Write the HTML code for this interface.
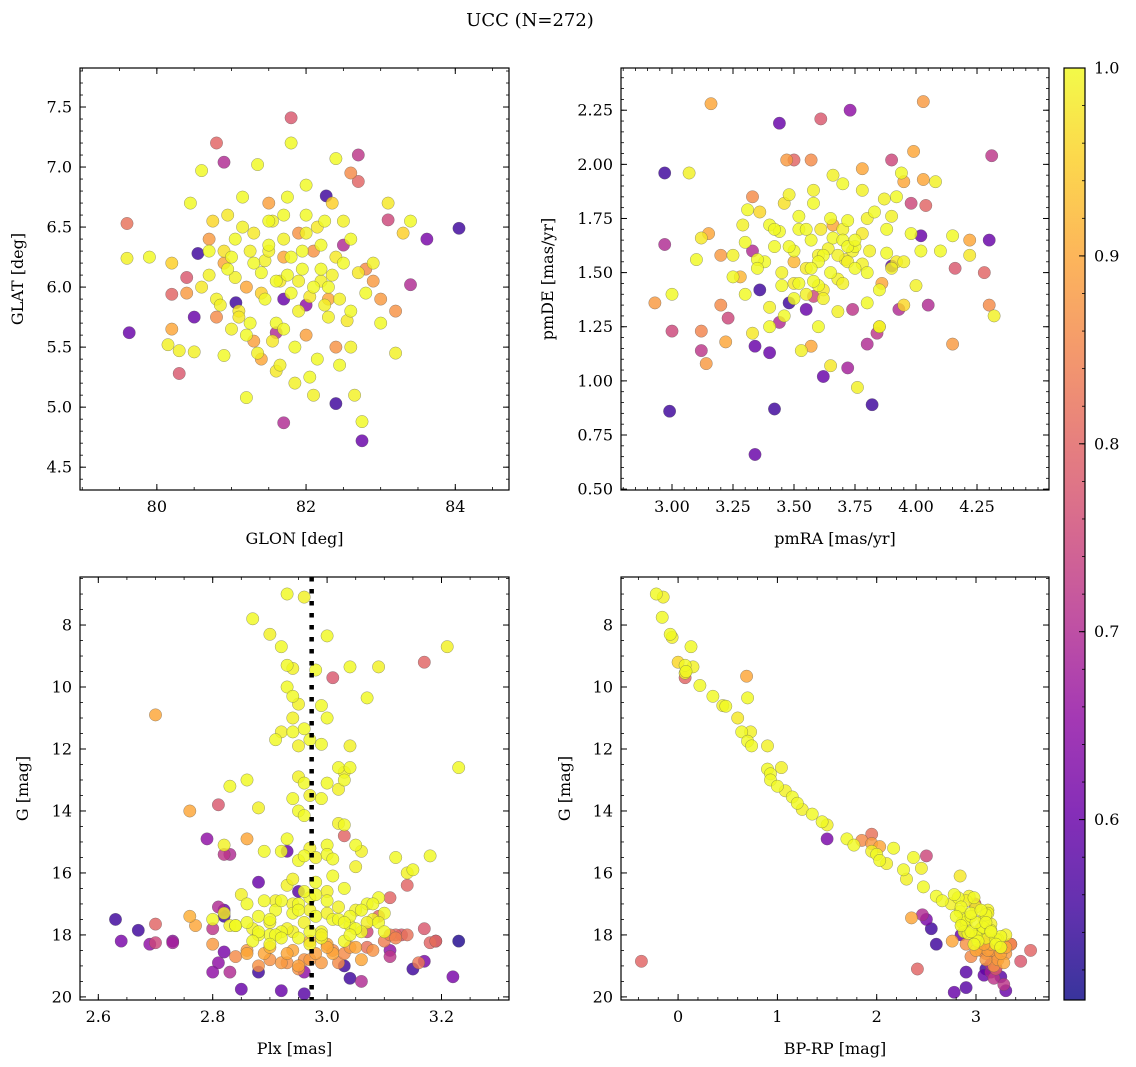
<!DOCTYPE html>
<html><head><meta charset="utf-8"><style>
html,body{margin:0;padding:0;background:#fff}
svg{display:block;font-family:"DejaVu Serif","Liberation Serif",serif}
</style></head><body>
<svg id="fig" width="1136" height="1067" viewBox="0 0 1136 1067">
<text x="530" y="26" text-anchor="middle" font-size="18" fill="#000">UCC (N=272)</text>
</svg>
<script>
// Each entry: [x, y, probability]
// ---- Panel 1: GLON vs GLAT ----
const p1Low=[[84.05,6.49,0.55],[83.62,6.40,0.62],[82.75,4.72,0.6],[82.4,5.03,0.55],[79.63,5.62,0.6],[80.55,6.28,0.55],[82.27,6.76,0.55],[81.06,5.87,0.55],[80.5,5.75,0.6],[81.7,5.9,0.6],[82.0,5.85,0.65],[81.7,4.87,0.7],[82.7,7.1,0.72],[81.8,7.41,0.78],[80.8,7.2,0.8],[80.9,7.04,0.7],[79.6,6.53,0.82],[80.3,5.28,0.78],[80.4,6.08,0.78],[80.2,5.94,0.8],[83.4,6.02,0.7],[82.7,6.88,0.8],[81.6,5.62,0.7],[82.5,6.35,0.7],[83.1,6.56,0.75]];
const p1Mid=[[80.2,5.65,0.9],[80.7,6.4,0.88],[81.3,5.55,0.89],[81.9,6.45,0.87],[82.3,5.9,0.9],[82.8,6.15,0.86],[83.0,5.9,0.88],[80.9,6.2,0.9],[81.5,6.7,0.89],[82.1,6.3,0.87],[82.6,6.95,0.86],[81.2,6.0,0.9],[80.4,5.95,0.88],[83.2,5.8,0.87],[82.0,5.6,0.89],[81.4,5.4,0.9],[80.8,5.75,0.86],[82.9,6.05,0.88],[81.7,6.25,0.9],[82.4,5.5,0.87]];
const p1High=[[79.6,6.24,0.99],[79.9,6.25,1.0],[80.15,5.52,0.99],[80.2,6.2,0.95],[80.3,5.47,0.99],[80.45,6.7,1.0],[80.5,5.46,0.99],[80.6,6.97,1.0],[80.7,6.1,0.99],[80.75,6.55,0.96],[80.8,5.9,0.99],[80.9,5.43,1.0],[80.95,6.6,0.98],[81.0,6.25,1.0],[81.05,6.08,0.99],[81.1,5.8,0.98],[81.15,6.75,1.0],[81.2,5.08,1.0],[81.25,6.3,0.99],[81.3,6.45,0.98],[81.35,7.02,1.0],[81.4,5.95,0.95],[81.45,6.22,0.99],[81.5,6.55,1.0],[81.55,5.55,0.98],[81.6,5.7,1.0],[81.65,6.05,0.98],[81.7,6.4,0.99],[81.75,6.1,1.0],[81.8,7.2,1.0],[81.85,5.2,0.99],[81.9,6.05,0.99],[81.95,6.3,1.0],[82.0,6.85,1.0],[82.05,5.92,0.98],[82.1,5.1,0.99],[82.15,6.5,0.98],[82.2,6.15,1.0],[82.25,5.85,0.99],[82.3,6.0,1.0],[82.35,6.7,0.95],[82.4,6.25,0.98],[82.45,5.35,1.0],[82.5,6.55,0.99],[82.55,5.72,0.98],[82.6,6.4,1.0],[82.65,5.1,0.99],[82.7,6.12,0.98],[82.75,4.88,1.0],[82.8,5.95,1.0],[82.9,6.2,0.99],[83.0,5.7,1.0],[83.1,6.7,0.98],[83.2,5.45,0.99],[83.3,6.45,0.95],[83.4,6.55,1.0],[81.2,5.6,1.0],[81.6,5.3,0.98],[82.0,6.45,0.99],[81.4,6.12,1.0],[80.9,6.3,0.97],[81.8,5.95,1.0],[82.2,6.05,0.99],[81.1,5.75,0.98],[81.5,6.35,1.0],[82.6,5.5,0.99],[80.6,6.0,0.98],[81.0,5.65,0.99],[82.4,7.07,1.0],[81.7,6.6,1.0],
[81.3,6.2,1.0],[81.5,6.3,0.99],[81.6,6.05,1.0],[81.8,6.25,1.0],[81.9,5.8,0.99],[82.1,6.0,1.0],[82.2,6.35,1.0],[82.3,5.75,0.99],[81.45,5.9,1.0],[81.7,5.65,1.0],[81.55,6.55,0.99],[82.0,6.6,1.0],[81.85,5.5,1.0],[82.35,6.1,0.99],[81.25,5.7,1.0],[80.95,6.15,1.0],[80.85,5.85,0.99],[81.05,6.4,1.0],[82.15,5.4,1.0],[82.45,5.9,0.99],[81.75,6.75,1.0],[82.5,6.2,1.0],[81.35,5.45,0.99],[82.05,5.25,1.0],[80.7,6.3,1.0],[81.15,6.5,0.99],[82.25,6.55,1.0],[81.95,6.15,1.0],[81.65,5.35,0.99],[82.6,5.8,1.0]];

// ---- Panel 2: pmRA vs pmDE ----
const p2Low=[[2.97,1.96,0.55],[2.99,0.86,0.55],[3.34,0.66,0.6],[3.42,0.87,0.55],[3.82,0.89,0.55],[3.44,2.19,0.6],[3.73,2.25,0.65],[4.3,1.65,0.6],[4.31,2.04,0.72],[4.02,1.67,0.6],[3.9,1.53,0.58],[3.34,1.16,0.6],[3.4,1.13,0.6],[3.72,1.06,0.68],[3.62,1.02,0.6],[2.97,1.63,0.7],[3.0,1.23,0.75],[3.12,1.14,0.72],[3.36,1.42,0.55],[3.48,1.36,0.55],[3.55,1.33,0.6],[3.8,1.17,0.7],[3.84,1.22,0.72],[3.58,1.39,0.75],[3.93,1.33,0.7],[4.05,1.35,0.7],[3.61,2.21,0.78],[3.5,2.02,0.8],[3.9,2.02,0.75],[4.16,1.52,0.78],[4.28,1.5,0.8],[3.33,1.6,0.7],[3.23,1.29,0.75],[3.44,1.27,0.7],[3.98,1.82,0.75],[4.04,1.81,0.8],[3.74,1.33,0.72]];
const p2Mid=[[3.16,2.28,0.9],[4.03,2.29,0.88],[2.93,1.36,0.88],[3.14,1.08,0.88],[3.12,1.23,0.85],[3.22,1.18,0.9],[4.15,1.17,0.88],[4.3,1.35,0.86],[4.22,1.65,0.9],[4.03,1.93,0.9],[3.99,2.06,0.9],[3.57,2.02,0.86],[3.47,2.02,0.88],[3.33,1.85,0.86],[3.15,1.68,0.9],[3.2,1.58,0.88],[3.2,1.35,0.86],[3.57,1.16,0.9],[3.78,1.98,0.9],[3.5,1.55,0.92],[3.66,1.72,0.9],[3.86,1.45,0.9],[3.28,1.48,0.92],[3.95,1.92,0.9]];
const p2High=[[3.0,1.4,1.0],[3.07,1.96,0.99],[3.1,1.56,1.0],[3.12,1.66,0.98],[3.25,1.48,1.0],[3.29,1.72,0.99],[3.31,1.79,1.0],[3.33,1.22,0.98],[3.36,1.78,0.96],[3.38,1.55,1.0],[3.4,1.34,0.99],[3.42,1.62,1.0],[3.44,1.69,1.0],[3.46,1.82,0.97],[3.48,1.86,0.99],[3.5,1.38,1.0],[3.52,1.76,1.0],[3.53,1.14,0.99],[3.55,1.52,0.98],[3.57,1.65,1.0],[3.58,1.88,0.99],[3.6,1.44,1.0],[3.61,1.7,0.98],[3.62,1.58,1.0],[3.64,1.61,0.99],[3.65,1.07,0.98],[3.66,1.66,1.0],[3.68,1.47,0.99],[3.7,1.91,1.0],[3.71,1.56,0.98],[3.72,1.74,1.0],[3.74,1.6,0.99],[3.75,1.52,1.0],[3.76,0.97,0.99],[3.78,1.68,0.98],[3.8,1.36,1.0],[3.81,1.6,0.99],[3.83,1.78,1.0],[3.85,1.25,0.97],[3.87,1.84,0.99],[3.88,1.59,1.0],[3.9,1.76,0.99],[3.92,1.55,0.98],[3.94,1.96,1.0],[3.95,1.35,0.96],[3.98,1.68,1.0],[4.0,1.44,0.99],[4.02,1.6,1.0],[4.08,1.92,0.99],[4.15,1.67,1.0],[4.22,1.58,0.98],[4.32,1.3,0.99],[3.45,1.44,1.0],[3.55,1.4,0.99],[3.65,1.5,1.0],[3.75,1.62,1.0],[3.6,1.58,0.99],[3.7,1.65,1.0],[3.5,1.45,0.98],[3.4,1.72,1.0],[3.85,1.25,0.99],[3.3,1.64,1.0],[3.68,1.32,0.99],[3.58,1.46,1.0],[3.78,1.54,0.99],[3.52,1.7,1.0],[3.62,1.42,0.98],[3.72,1.62,1.0],[3.9,1.52,0.99],[3.35,1.56,1.0],[3.8,1.75,0.99],
[3.5,1.6,1.0],[3.6,1.55,1.0],[3.7,1.45,0.99],[3.65,1.75,1.0],[3.55,1.7,1.0],[3.45,1.5,0.99],[3.75,1.65,1.0],[3.8,1.5,1.0],[3.62,1.38,0.99],[3.48,1.62,1.0],[3.58,1.82,1.0],[3.68,1.58,0.99],[3.52,1.45,1.0],[3.42,1.7,1.0],[3.72,1.55,0.99],[3.88,1.7,1.0],[3.35,1.52,1.0],[3.95,1.55,0.99],[3.3,1.4,1.0],[3.6,1.25,1.0],[3.78,1.88,0.99],[3.46,1.3,1.0],[3.85,1.42,1.0],[3.66,1.95,0.99],[3.57,1.52,1.0],[4.1,1.6,1.0],[3.25,1.58,0.99],[3.92,1.85,1.0],[3.4,1.25,1.0],[3.7,1.7,0.99]];

// ---- Panel 3: Plx vs G ----
const p3Low=[[2.63,17.5,0.55],[2.64,18.2,0.62],[2.67,17.85,0.55],[2.69,18.3,0.65],[2.7,18.25,0.75],[2.73,18.2,0.65],[2.73,18.25,0.68],[2.7,17.65,0.8],[2.81,18.9,0.65],[2.8,19.2,0.65],[2.82,18.55,0.62],[2.83,19.2,0.7],[2.85,19.75,0.6],[2.88,19.2,0.55],[2.92,19.8,0.6],[2.96,19.9,0.58],[2.96,19.2,0.65],[3.04,19.4,0.55],[3.03,19.0,0.55],[3.06,19.5,0.7],[3.11,18.5,0.65],[3.15,19.1,0.55],[3.17,18.85,0.62],[3.19,18.2,0.62],[3.23,18.2,0.52],[3.22,19.35,0.62],[2.8,17.8,0.72],[2.82,17.4,0.55],[3.13,18.0,0.78],[3.17,17.8,0.78],[3.11,18.7,0.72],[3.12,18.0,0.8],[3.18,18.25,0.8],[3.09,17.4,0.8],[3.07,17.9,0.75],
[3.17,9.2,0.8],[3.01,9.7,0.78],[2.81,13.8,0.78],[3.03,14.8,0.8],[2.79,14.9,0.65],[2.82,15.4,0.72],[2.83,15.4,0.7],[2.93,15.3,0.6],[2.88,16.3,0.6],[2.95,16.6,0.58],[3.14,16.4,0.8],[3.11,16.8,0.8],[2.81,17.1,0.7],[2.82,17.2,0.6]];
const p3Mid=[[2.7,10.9,0.9],[2.76,14.0,0.9],[2.86,14.9,0.9],[2.77,17.7,0.9],[2.8,18.3,0.88],[2.84,18.7,0.86],[2.86,18.6,0.9],[2.88,19.0,0.87],[2.9,18.4,0.91],[2.92,18.9,0.88],[2.94,18.5,0.9],[2.96,18.8,0.87],[2.98,18.6,0.89],[3.0,18.3,0.9],[3.02,18.9,0.86],[3.04,18.4,0.88],[3.06,18.8,0.9],[3.08,18.5,0.87],[3.1,18.2,0.84],[3.12,18.1,0.85],[3.14,18.0,0.82],[3.16,18.9,0.83],[2.95,19.0,0.89],[2.99,18.9,0.88],[3.03,18.6,0.86],[2.89,18.6,0.9],[2.93,18.9,0.87],[2.97,18.2,0.9],[3.01,18.5,0.86],[3.07,18.4,0.82],[3.11,18.0,0.84],[2.76,17.4,0.91],[3.19,18.2,0.82],
[2.93,18.6,0.9],[2.97,18.8,0.88],[3.01,18.6,0.9],[2.9,18.8,0.87],[3.05,18.4,0.9],[2.86,18.5,0.88],[2.95,19.1,0.87],[3.0,18.4,0.9]];
const p3High=[[2.93,7.0,1.0],[2.96,7.1,0.99],[2.87,7.8,1.0],[2.9,8.3,0.99],[3.0,8.35,1.0],[2.92,8.7,1.0],[3.21,8.7,0.99],[2.93,9.3,1.0],[2.94,9.4,0.99],[2.98,9.45,1.0],[3.04,9.35,1.0],[3.09,9.35,0.99],[2.93,10.0,1.0],[2.94,10.3,1.0],[2.95,10.55,0.99],[2.99,10.6,1.0],[3.07,10.35,1.0],[2.94,11.0,0.99],[3.0,11.0,1.0],[2.96,11.35,1.0],[2.92,11.45,0.99],[2.94,11.45,1.0],[2.91,11.7,1.0],[2.95,11.9,0.99],[2.97,11.7,1.0],[2.99,11.85,1.0],[3.04,11.9,0.99],[3.23,12.6,1.0],[3.02,12.6,1.0],[3.03,12.75,0.99],[3.04,12.6,1.0],[3.03,13.0,1.0],[2.95,12.9,0.99],[2.96,13.1,1.0],[3.0,13.1,1.0],[3.02,13.3,0.99],[2.83,13.2,1.0],[2.86,13.0,1.0],[2.97,13.5,0.99],[2.99,13.6,1.0],[2.94,13.6,1.0],[2.88,13.9,0.99],[2.95,14.0,1.0],[2.96,14.15,1.0],[3.02,14.4,0.99],[3.03,14.45,1.0],[2.93,14.9,1.0],[2.82,15.1,0.99],[2.89,15.3,1.0],[2.92,15.3,1.0],[2.97,15.2,0.99],[3.0,15.1,1.0],[3.05,15.1,1.0],[3.06,15.3,0.99],[2.95,15.6,1.0],[2.96,15.45,1.0],[2.98,15.5,0.99],[3.0,15.4,1.0],[3.01,15.55,1.0],[3.05,15.8,0.99],[3.12,15.5,1.0],[3.18,15.45,1.0],[3.14,16.0,0.99],[3.15,15.9,1.0],
[2.8,17.5,1.0],[2.82,17.3,0.99],[2.84,17.7,1.0],[2.86,17.0,1.0],[2.87,17.8,0.99],[2.88,17.4,1.0],[2.89,16.9,1.0],[2.9,17.6,0.99],[2.91,17.2,1.0],[2.92,17.9,1.0],[2.93,16.4,0.99],[2.94,17.3,1.0],[2.95,17.0,1.0],[2.96,17.6,0.99],[2.97,16.8,1.0],[2.98,17.4,1.0],[2.99,17.9,0.99],[3.0,16.9,1.0],[3.01,17.5,1.0],[3.02,17.1,0.99],[3.03,16.5,1.0],[3.04,17.7,1.0],[3.05,17.2,0.99],[3.06,17.9,1.0],[3.07,17.0,1.0],[3.08,17.5,0.99],[3.09,16.8,1.0],[3.1,17.3,1.0],[2.85,16.7,0.99],[2.9,18.0,1.0],[2.95,18.1,1.0],[3.0,16.6,0.99],[3.05,17.8,1.0],[2.92,16.9,1.0],[2.97,17.2,0.99],[3.02,17.5,1.0],[2.88,18.0,1.0],[2.94,17.9,0.99],[2.98,16.7,1.0],[3.03,18.2,1.0],[3.07,17.6,0.99],[2.84,17.7,1.0],[2.91,18.0,1.0],[2.99,18.1,0.99],[3.04,17.4,1.0],[3.08,17.0,1.0],
[2.9,17.5,1.0],[2.93,17.8,0.99],[2.95,17.2,1.0],[2.97,17.9,1.0],[3.0,17.3,0.99],[2.88,17.9,1.0],[2.92,18.1,1.0],[2.99,18.0,0.99],[3.03,17.6,1.0],[2.96,16.6,1.0],[2.94,16.2,0.99],[3.06,17.2,1.0],[2.86,17.6,1.0],[2.91,16.9,0.99],[2.98,16.3,1.0],[3.01,16.1,1.0],[2.94,17.0,0.99],[3.04,18.0,1.0],[2.87,18.2,1.0],[2.83,17.7,0.99],[3.09,17.6,1.0],[3.1,17.9,1.0],[2.97,18.3,0.99],[2.9,18.3,1.0]];

// ---- Panel 4: BP-RP vs G ----
const p4Low=[[1.5,14.9,0.62],[2.78,19.85,0.6],[2.9,19.7,0.58],[3.3,19.8,0.6],[2.9,19.2,0.58],[2.55,17.8,0.55],[2.6,18.3,0.55],[2.5,17.5,0.62],[3.08,19.3,0.6],[3.25,19.35,0.58],[3.15,19.2,0.68],[3.2,19.05,0.72],[2.85,18.0,0.6],[3.1,19.1,0.55],
[-0.37,18.85,0.8],[2.41,19.1,0.8],[3.55,18.5,0.8],[3.45,18.85,0.78],[1.95,14.75,0.82],[2.5,15.45,0.75],[0.07,9.7,0.8],[2.46,17.35,0.7],[3.35,18.3,0.85],[3.2,19.1,0.78],[3.15,18.95,0.7],[3.18,19.4,0.72],[2.99,17.0,0.75],[3.28,19.6,0.72]];
const p4Mid=[[0.69,9.65,0.9],[3.0,18.5,0.9],[3.05,18.4,0.88],[3.1,18.6,0.86],[3.15,18.3,0.9],[3.2,18.7,0.87],[3.25,18.4,0.91],[3.3,18.6,0.88],[3.28,18.9,0.9],[3.18,19.0,0.87],[3.12,18.5,0.89],[3.08,18.3,0.9],[2.95,18.7,0.86],[3.22,18.8,0.88],[2.76,18.2,0.9],[2.9,18.3,0.87],[3.35,18.3,0.84],[3.1,18.1,0.85],[2.03,15.15,0.9],[1.95,15.05,0.88],[1.85,14.95,0.86],[2.35,17.45,0.9],
[3.1,18.8,0.88],[3.2,18.8,0.86],[3.25,18.6,0.9],[3.15,18.5,0.88],[3.3,18.4,0.9],[3.05,18.5,0.86]];
const p4High=[[-0.22,7.0,1.0],[-0.15,7.1,0.99],[-0.16,7.75,1.0],[-0.08,8.3,1.0],[-0.06,8.4,0.99],[0.13,8.7,1.0],[0.0,9.2,0.96],[0.07,9.3,1.0],[0.15,9.35,0.99],[0.08,9.5,1.0],[0.07,9.55,0.99],[0.22,9.95,1.0],[0.35,10.3,1.0],[0.45,10.6,0.99],[0.48,10.62,1.0],[0.7,10.35,1.0],[0.6,11.0,0.98],[0.64,11.45,1.0],[0.73,11.45,0.99],[0.7,11.75,1.0],[0.74,11.9,1.0],[0.9,11.9,0.99],[0.9,12.65,1.0],[0.93,12.8,1.0],[1.04,12.6,0.99],[0.93,13.0,1.0],[1.0,13.2,1.0],[1.08,13.35,0.99],[1.15,13.55,1.0],[1.2,13.75,1.0],[1.25,13.95,0.99],[1.35,14.1,1.0],[1.45,14.35,1.0],[1.5,14.45,0.99],[1.7,14.9,1.0],[1.77,15.1,1.0],[1.95,15.3,0.99],[2.0,15.4,1.0],[2.03,15.6,1.0],[2.1,15.7,0.99],[2.17,15.2,1.0],[2.27,15.9,1.0],[2.3,16.2,0.99],[2.37,15.5,1.0],[2.47,16.45,1.0],[2.45,15.85,0.99],[2.6,16.75,1.0],[2.66,16.9,1.0],[2.75,17.0,0.99],[2.82,16.8,1.0],[2.84,17.25,1.0],[2.86,17.6,0.99],[2.9,17.5,1.0],[2.95,17.4,1.0],[3.0,17.1,0.99],[3.05,17.8,1.0],[3.1,17.35,1.0],[3.15,17.65,0.99],[2.78,16.7,1.0],[2.88,17.9,1.0],[2.93,16.75,0.99],[3.0,18.05,1.0],[3.07,17.75,1.0],[3.12,17.2,0.99],[3.2,18.15,1.0],[3.25,18.05,1.0],[3.3,18.0,0.99],[2.92,17.95,1.0],[3.02,18.2,1.0],[3.08,17.5,0.99],[2.98,18.3,1.0],[3.15,17.85,1.0],[3.22,18.15,0.99],[2.84,16.1,0.98],
[2.85,17.1,1.0],[2.9,17.6,0.99],[2.95,17.9,1.0],[3.0,17.6,1.0],[3.05,17.9,0.99],[3.1,17.6,1.0],[3.15,17.9,1.0],[2.9,16.9,0.99],[2.95,17.3,1.0],[3.05,17.2,1.0],[3.1,18.1,0.99],[3.2,18.3,1.0],[2.8,17.4,1.0],[3.0,18.0,0.99],[3.25,18.4,1.0],[2.85,17.7,1.0],[3.12,17.3,0.99],[2.98,16.8,1.0]];

// colorbar ticks
const cbTicks=[0.6,0.7,0.8,0.9,1.0];
const VMIN=0.504, VMAX=1.0;

const NS='http://www.w3.org/2000/svg';
const svg=document.getElementById('fig');
function mk(tag,attrs,parent){const e=document.createElementNS(NS,tag);for(const k in attrs)e.setAttribute(k,attrs[k]);(parent||svg).appendChild(e);return e;}

const plasmaStops=[[0,[13,8,135]],[0.1,[65,4,157]],[0.2,[106,0,168]],[0.3,[143,13,164]],[0.4,[177,42,144]],[0.5,[204,71,120]],[0.6,[225,100,98]],[0.7,[242,132,75]],[0.8,[252,166,54]],[0.9,[252,206,37]],[1.0,[240,249,33]]];
function plasma(t){t=Math.max(0,Math.min(1,t));for(let i=1;i<plasmaStops.length;i++){if(t<=plasmaStops[i][0]){const a=plasmaStops[i-1],b=plasmaStops[i];const f=(t-a[0])/(b[0]-a[0]);const c=a[1].map((v,j)=>Math.round(v+(b[1][j]-v)*f));return 'rgb('+c.join(',')+')';}}return 'rgb(240,249,33)';}
function col(p){return plasma((p-VMIN)/(VMAX-VMIN));}

function panel(cfg){
  const {L,R,T,B,x0,x1,y0,y1,inv}=cfg;
  const sx=v=>L+(v-x0)/(x1-x0)*(R-L);
  const sy=inv? (v=>T+(v-y0)/(y1-y0)*(B-T)) : (v=>B-(v-y0)/(y1-y0)*(B-T));
  const g=mk('g',{});
  
  
  const cp='clip-'+cfg.name;
  const cpe=mk('clipPath',{id:cp},g);mk('rect',{x:L,y:T,width:R-L,height:B-T},cpe);
  const pg=mk('g',{'clip-path':'url(#'+cp+')'},g);
  const pts=cfg.pts.slice().sort((a,b)=>a[2]-b[2]);
  for(const d of pts){
    const c=mk('circle',{cx:sx(d[0]).toFixed(1),cy:sy(d[1]).toFixed(1),r:6.2,fill:col(d[2]),'fill-opacity':0.82,stroke:'#555','stroke-opacity':0.6,'stroke-width':0.5},pg);
    
    
  }
  if(cfg.vline!==undefined){
    const l=mk('line',{x1:sx(cfg.vline),x2:sx(cfg.vline),y1:T,y2:B,stroke:'#000','stroke-width':4.5,'stroke-dasharray':'4.5 7.5'},pg);
    
    
  }
  mk('rect',{x:L,y:T,width:R-L,height:B-T,fill:'none',stroke:'#000','stroke-width':1.2},g);
  const eps=1e-9;
  for(let v=Math.ceil(x0/cfg.xmin-eps)*cfg.xmin;v<=x1+eps;v+=cfg.xmin){const X=sx(v);mk('line',{x1:X,x2:X,y1:B,y2:B-3,stroke:'#000','stroke-width':0.8},g);mk('line',{x1:X,x2:X,y1:T,y2:T+3,stroke:'#000','stroke-width':0.8},g);}
  for(let v=Math.ceil(y0/cfg.ymin-eps)*cfg.ymin;v<=y1+eps;v+=cfg.ymin){const Y=sy(v);mk('line',{x1:L,x2:L+3,y1:Y,y2:Y,stroke:'#000','stroke-width':0.8},g);mk('line',{x1:R,x2:R-3,y1:Y,y2:Y,stroke:'#000','stroke-width':0.8},g);}
  cfg.xt.forEach((v,k)=>{const X=sx(v);mk('line',{x1:X,x2:X,y1:B,y2:B-6,stroke:'#000','stroke-width':1},g);mk('line',{x1:X,x2:X,y1:T,y2:T+6,stroke:'#000','stroke-width':1},g);
    const t=mk('text',{x:X,y:B+22,'text-anchor':'middle','font-size':16},g);t.textContent=cfg.xl[k];
    });
  cfg.yt.forEach((v,k)=>{const Y=sy(v);mk('line',{x1:L,x2:L+6,y1:Y,y2:Y,stroke:'#000','stroke-width':1},g);mk('line',{x1:R,x2:R-6,y1:Y,y2:Y,stroke:'#000','stroke-width':1},g);
    const t=mk('text',{x:L-8,y:Y+5.5,'text-anchor':'end','font-size':16},g);t.textContent=cfg.yl[k];
    });
  const xt=mk('text',{x:(L+R)/2,y:B+54,'text-anchor':'middle','font-size':16},g);xt.textContent=cfg.xlab;
  
  const yx=cfg.ylx, yc=(T+B)/2;
  const yt=mk('text',{x:yx,y:yc,'text-anchor':'middle','font-size':16,transform:'rotate(-90 '+yx+' '+yc+')'},g);yt.textContent=cfg.ylab;
  
}

panel({name:'panel-glon-glat',L:80,R:509,T:68,B:490,x0:78.97,x1:84.72,y0:4.31,y1:7.825,pts:[...p1Low,...p1Mid,...p1High],
  xt:[80,82,84],xl:['80','82','84'],yt:[4.5,5,5.5,6,6.5,7,7.5],yl:['4.5','5.0','5.5','6.0','6.5','7.0','7.5'],xmin:0.5,ymin:0.1,xlab:'GLON [deg]',ylab:'GLAT [deg]',ylx:23});
panel({name:'panel-pmra-pmde',L:621,R:1049,T:68,B:490,x0:2.791,x1:4.545,y0:0.496,y1:2.445,pts:[...p2Low,...p2Mid,...p2High],
  xt:[3,3.25,3.5,3.75,4,4.25],xl:['3.00','3.25','3.50','3.75','4.00','4.25'],yt:[0.5,0.75,1,1.25,1.5,1.75,2,2.25],yl:['0.50','0.75','1.00','1.25','1.50','1.75','2.00','2.25'],xmin:0.05,ymin:0.05,xlab:'pmRA [mas/yr]',ylab:'pmDE [mas/yr]',ylx:553});
panel({name:'panel-plx-g',L:80,R:509,T:577,B:1000,x0:2.568,x1:3.318,y0:6.45,y1:20.1,inv:true,pts:[...p3Low,...p3Mid,...p3High],vline:2.973,
  xt:[2.6,2.8,3.0,3.2],xl:['2.6','2.8','3.0','3.2'],yt:[8,10,12,14,16,18,20],yl:['8','10','12','14','16','18','20'],xmin:0.05,ymin:0.5,xlab:'Plx [mas]',ylab:'G [mag]',ylx:28});
panel({name:'panel-cmd',L:621,R:1049,T:577,B:1000,x0:-0.575,x1:3.735,y0:6.45,y1:20.1,inv:true,pts:[...p4Low,...p4Mid,...p4High],
  xt:[0,1,2,3],xl:['0','1','2','3'],yt:[8,10,12,14,16,18,20],yl:['8','10','12','14','16','18','20'],xmin:0.2,ymin:0.5,xlab:'BP-RP [mag]',ylab:'G [mag]',ylx:570});

(function(){
  const L=1064,R=1085,T=68,B=1000;
  const g=mk('g',{});
  
  
  const gr=mk('linearGradient',{id:'cbg',x1:0,y1:1,x2:0,y2:0},g);
  for(let i=0;i<=20;i++){const t=i/20;mk('stop',{offset:t,'stop-color':plasma(t),'stop-opacity':0.82},gr);}
  mk('rect',{x:L,y:T,width:R-L,height:B-T,fill:'url(#cbg)',stroke:'#000','stroke-width':1.2},g);
  const sy=v=>B-(v-VMIN)/(VMAX-VMIN)*(B-T);
  for(let v=0.52;v<=1.0001;v+=0.02){const Y=sy(v);mk('line',{x1:R,x2:R-3,y1:Y,y2:Y,stroke:'#000','stroke-width':0.8},g);}
  cbTicks.forEach(v=>{const Y=sy(v);mk('line',{x1:R,x2:R-6,y1:Y,y2:Y,stroke:'#000','stroke-width':1},g);
    const t=mk('text',{x:R+9,y:Y+5.5,'font-size':16},g);t.textContent=v.toFixed(1);
    });
})();
</script>
</body></html>
